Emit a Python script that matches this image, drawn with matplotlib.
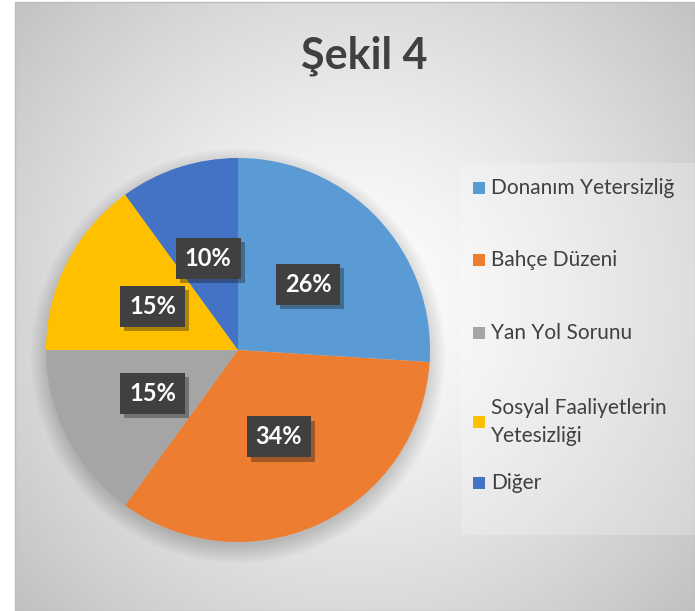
import numpy as np
import matplotlib
matplotlib.use("Agg")
import matplotlib.pyplot as plt
from matplotlib.patches import Rectangle, Circle
import matplotlib.patheffects as pe

plt.rcParams['font.family'] = ['Lato', 'DejaVu Sans']

# ---- data ----
categories = ["Donanım Yetersizliğ", "Bahçe Düzeni", "Yan Yol Sorunu",
              "Sosyal Faaliyetlerin\nYetesizliği", "Diğer"]
values = [26, 34, 15, 15, 10]
colors = ["#5B9BD5", "#ED7D31", "#A5A5A5", "#FFC000", "#4472C4"]
title = "Şekil 4"

W, H = 695, 611
fig = plt.figure(figsize=(W / 100, H / 100), dpi=100)
fig.patch.set_facecolor("white")

# ---- background (pixel coordinates) ----
bg = fig.add_axes([0, 0, 1, 1])
bg.set_xlim(0, W)
bg.set_ylim(H, 0)
bg.axis("off")
x0, y0 = 15, 2
yy, xx = np.mgrid[y0:H, x0:W]
cx, cy = 355, 300
d = np.hypot(xx - cx, yy - cy) / 470.0
g = 1.0 - 0.25 * np.clip(d, 0, 1) ** 1.3
img = np.dstack([g, g, g])
bg.imshow(img, extent=[x0, W, H, y0], aspect="auto", zorder=0, interpolation="bilinear")
bg.add_patch(Rectangle((x0, y0), W - x0, H - y0, fill=False, edgecolor="#bdbdbd", lw=1.0, zorder=1))

# legend box
lb = Rectangle((461, 163), W - 461, 372, facecolor="white", alpha=0.22, edgecolor="none", zorder=2)
bg.add_patch(lb)

# title
bg.text(364, 68, title, ha="center", va="baseline", fontsize=31, fontweight="bold",
        color="#404040", zorder=5)

# legend entries
leg_y = [188, 260, 333, 422, 483]
for cat, col, ly in zip(categories, colors, leg_y):
    bg.add_patch(Rectangle((473, ly - 6), 12, 12, facecolor=col, edgecolor="none", zorder=5))
    bg.text(491, ly, cat, ha="left", va="center", fontsize=15, color="#404040",
            linespacing=1.5, zorder=5)

# ---- pie ----
cxp, cyp, r = 238, 350, 192
ax = fig.add_axes([(cxp - r) / W, (H - cyp - r) / H, 2 * r / W, 2 * r / H])
ax.set_xlim(-1, 1)
ax.set_ylim(-1, 1)
ax.set_aspect("equal")
ax.axis("off")
ax.patch.set_alpha(0)

# soft shadow
for i in range(14):
    ax.add_patch(Circle((0.0, -0.03), 0.99 + 0.007 * i, facecolor="black",
                        alpha=0.012, edgecolor="none", zorder=0, clip_on=False))

wedges, texts, autotexts = ax.pie(
    values, colors=colors, startangle=90, counterclock=False, radius=1.0,
    autopct=lambda p: f"{p:.0f}%", pctdistance=0.5,
    wedgeprops=dict(linewidth=0, edgecolor="none"),
    textprops=dict(color="white", fontsize=17, fontweight="bold"))
ax.set_xlim(-1, 1)
ax.set_ylim(-1, 1)
for t in autotexts:
    t.set_bbox(dict(boxstyle="square,pad=0.38", facecolor="#404040", edgecolor="none"))
    t.get_bbox_patch().set_path_effects([pe.SimplePatchShadow(offset=(3, -3), alpha=0.35), pe.Normal()])
    t.set_zorder(10)

fig.savefig("out.png", dpi=100)
